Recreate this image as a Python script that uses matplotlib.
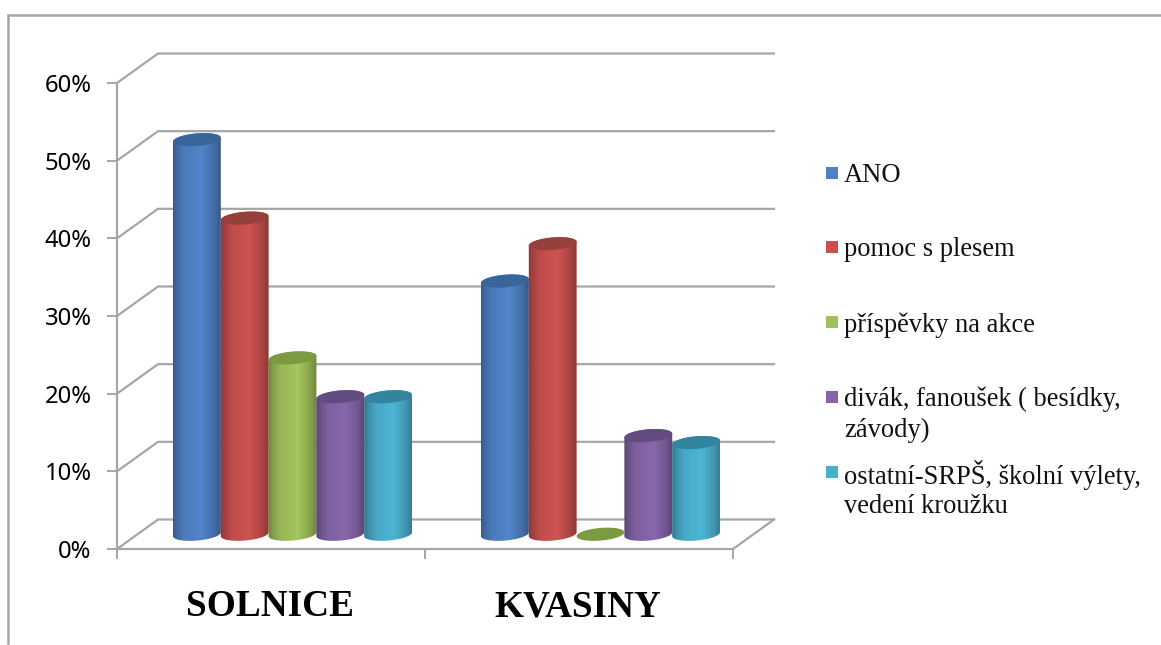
import matplotlib
matplotlib.use('Agg')
import matplotlib.pyplot as plt
import numpy as np
from matplotlib.lines import Line2D
from matplotlib.patches import Polygon, Rectangle
from matplotlib.ticker import FuncFormatter

categories = ['SOLNICE', 'KVASINY']
series_names = ['ANO', 'pomoc s plesem', 'příspěvky na akce',
                'divák, fanoušek ( besídky,\nzávody)',
                'ostatní-SRPŠ, školní výlety,\nvedení kroužku']
solnice = [50.8, 40.7, 22.7, 17.7, 17.7]
kvasiny = [32.6, 37.4, 0, 12.7, 11.8]
y_ticks = [0, 10, 20, 30, 40, 50, 60]

colors = ['#4f81c4', '#c9504f', '#a0c05a', '#8465a8', '#4bb0cf']
top_colors = ['#38659a', '#96403c', '#7c9a40', '#614b80', '#33859f']
legend_y = [173, 247, 322, 397, 472]
legend_text_top = [163, 237, 312, 387, 460]
legend_spacing = [1.3, 1.3, 1.3, 1.3, 1.22]

W, H = 1161, 645
GRAY = '#a6a6a6'

fig = plt.figure(figsize=(W / 100, H / 100), dpi=100)
ax = fig.add_axes([117 / W, 1 - 549 / H, 616 / W, 466 / H])
ax.set_xlim(0, 2)
ax.set_ylim(0, 60)

# pixel sizes of one data unit, the 3d look is done in pixels
px_x = 308
px_y = 466 / 60
depth_x = 41 / px_x
depth_y = 29.5 / px_y
bar_w = 47.8 / px_x


def ellipse(xc, v, t):
    # slightly tilted ellipse, right side higher
    a, b, tilt = 24.0, 6.3, np.radians(5)
    ex = a * np.cos(t)
    ey = b * np.sin(t)
    px = ex * np.cos(tilt) - ey * np.sin(tilt)
    py = ex * np.sin(tilt) + ey * np.cos(tilt)
    return np.column_stack([xc + px / px_x, v + py / px_y])


def shade(hex_color):
    c = np.array(matplotlib.colors.to_rgb(hex_color))
    stops = [0, 0.08, 0.25, 0.6, 0.85, 1]
    factors = [0.62, 0.78, 0.95, 1.03, 0.85, 0.66]
    xs = np.linspace(0, 1, 128)
    f = np.interp(xs, stops, factors)
    return np.clip(f[:, None] * c, 0, 1)[None, :, :]


def cylinder(xc, v, color, top):
    # centre of the bar is half way into the depth
    xc = xc + depth_x / 2 + 1 / px_x
    base = depth_y / 2
    if v > 0:
        low = ellipse(xc, base, np.linspace(np.pi, 2 * np.pi, 40))
        up = ellipse(xc, base + v, np.linspace(0, np.pi, 40))
        body = Polygon(np.vstack([low, up]), closed=True, transform=ax.transData)
        im = ax.imshow(shade(color), extent=[xc - bar_w / 2 - 0.005, xc + bar_w / 2 + 0.005,
                                             0, base + v + 5],
                       aspect='auto', interpolation='bilinear', zorder=3)
        im.set_clip_path(body)
    cap = Polygon(ellipse(xc, base + v, np.linspace(0, 2 * np.pi, 80)), closed=True,
                  facecolor=top, edgecolor='none', zorder=3, clip_on=False)
    ax.add_patch(cap)


# back wall and side lines
for v in y_ticks:
    ax.plot([0, depth_x, 2 + depth_x], [v, v + depth_y, v + depth_y], color=GRAY, lw=1.6,
            clip_on=False, zorder=1, solid_joinstyle='miter')
ax.plot([2, 2 + depth_x], [0, depth_y], color=GRAY, lw=1.6, clip_on=False, zorder=1)

for g, values in enumerate([solnice, kvasiny]):
    for i, v in enumerate(values):
        cylinder(g + 0.5 + (i - 2) * bar_w, v, colors[i], top_colors[i])

ax.set_xlim(0, 2)
ax.set_ylim(0, 60)

for side in ['top', 'right']:
    ax.spines[side].set_visible(False)
for side in ['left', 'bottom']:
    ax.spines[side].set_color(GRAY)
    ax.spines[side].set_linewidth(1.6)

ax.set_yticks(y_ticks)
ax.yaxis.set_major_formatter(FuncFormatter(lambda v, pos: f'{v:.0f}%'))
ax.tick_params(axis='y', length=7.2, width=1.4, color=GRAY, pad=11, labelsize=17.2)
for lab in ax.get_yticklabels():
    lab.set_fontfamily('Noto Sans')
ax.set_xticks([0, 1, 2])
ax.set_xticklabels([])
ax.set_xticks([0.497, 1.497], labels=categories, minor=True)
ax.tick_params(axis='x', which='major', length=7.2, width=1.4, color=GRAY)
ax.tick_params(axis='x', which='minor', length=0, pad=29, labelsize=26.8)
for lab in ax.get_xticklabels(minor=True):
    lab.set_fontfamily('Liberation Serif')
    lab.set_fontweight('bold')

# legend by hand, the entries are not evenly spaced
for name, col, y, top, sp in zip(series_names, colors, legend_y, legend_text_top, legend_spacing):
    fig.add_artist(Rectangle((826 / W, 1 - (y + 6) / H), 12 / W, 12 / H, facecolor=col,
                             edgecolor='none', transform=fig.transFigure))
    fig.text(844 / W, 1 - top / H, name, family='Liberation Serif', fontsize=19.1,
             va='top', ha='left', linespacing=sp, color='#111111')

# outer frame, cut off at top right and bottom
fig.add_artist(Line2D([8 / W, 8 / W, 1], [1 - 643 / H, 1 - 15 / H, 1 - 15 / H], color=GRAY,
                      lw=1.8, transform=fig.transFigure, solid_joinstyle='miter'))

fig.savefig('out.png', dpi=100)
